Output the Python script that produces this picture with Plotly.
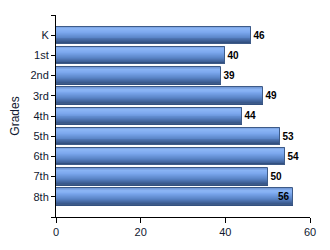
import plotly.graph_objects as go

grades = ["K", "1st", "2nd", "3rd", "4th", "5th", "6th", "7th", "8th"]
values = [46, 40, 39, 49, 44, 53, 54, 50, 56]
x_ticks = [0, 20, 40, 60]

positions = list(range(len(grades)))

# gradient profile (top -> bottom) for cylinder-like bar shading
stops = [(0.0, (0x6d, 0x93, 0xd0)), (0.15, (0x8c, 0xb6, 0xf6)), (0.35, (0x7c, 0xa8, 0xee)),
         (0.65, (0x5a, 0x85, 0xc8)), (1.0, (0x2f, 0x4b, 0x7a))]


def grad(t):
    for (t0, c0), (t1, c1) in zip(stops[:-1], stops[1:]):
        if t0 <= t <= t1:
            f = (t - t0) / (t1 - t0) if t1 > t0 else 0
            return "rgb(%d,%d,%d)" % tuple(round(a + (b - a) * f) for a, b in zip(c0, c1))
    return "rgb(%d,%d,%d)" % stops[-1][1]


BAR_W = 0.84
N = 18
fig = go.Figure()
for i in range(N):
    fig.add_trace(go.Bar(
        y=positions, x=values, orientation="h",
        width=BAR_W / N + 0.004, offset=-BAR_W / 2 + i * BAR_W / N,
        marker=dict(color=grad((i + 0.5) / N), line=dict(width=0)),
        hoverinfo="skip", showlegend=False,
    ))

text_pos = ["inside" if v >= 56 else "outside" for v in values]
fig.add_trace(go.Bar(
    y=positions, x=values, orientation="h", width=BAR_W,
    marker=dict(color="rgba(0,0,0,0)", line=dict(color="#3e5b88", width=1)),
    text=[str(v) for v in values], textposition=text_pos,
    insidetextanchor="end", constraintext="none", cliponaxis=False,
    textfont=dict(family="Liberation Sans, Arial", size=10, color="black", weight="bold"),
    showlegend=False,
))

fig.update_layout(
    width=330, height=250,
    margin=dict(l=56, r=20, t=15, b=33),
    paper_bgcolor="white", plot_bgcolor="white",
    barmode="overlay", bargap=0,
    font=dict(family="Liberation Sans, Arial", size=11, color="black"),
    xaxis=dict(range=[0, 60], tickvals=x_ticks, showgrid=False, zeroline=False,
               showline=True, linecolor="black", linewidth=1,
               ticks="outside", ticklen=5, tickcolor="black",
               tickfont=dict(size=11, color="#101830")),
    yaxis=dict(range=[len(grades), -1], tickvals=[-1] + positions + [len(grades)],
               ticktext=[""] + grades + [""], showgrid=False, zeroline=False,
               showline=True, linecolor="black", linewidth=1,
               ticks="outside", ticklen=4, tickcolor="black",
               tickfont=dict(size=11, color="#101830"),
               title=dict(text="Grades", font=dict(size=12, color="#101830"), standoff=8)),
)

fig.write_html("out.html")
